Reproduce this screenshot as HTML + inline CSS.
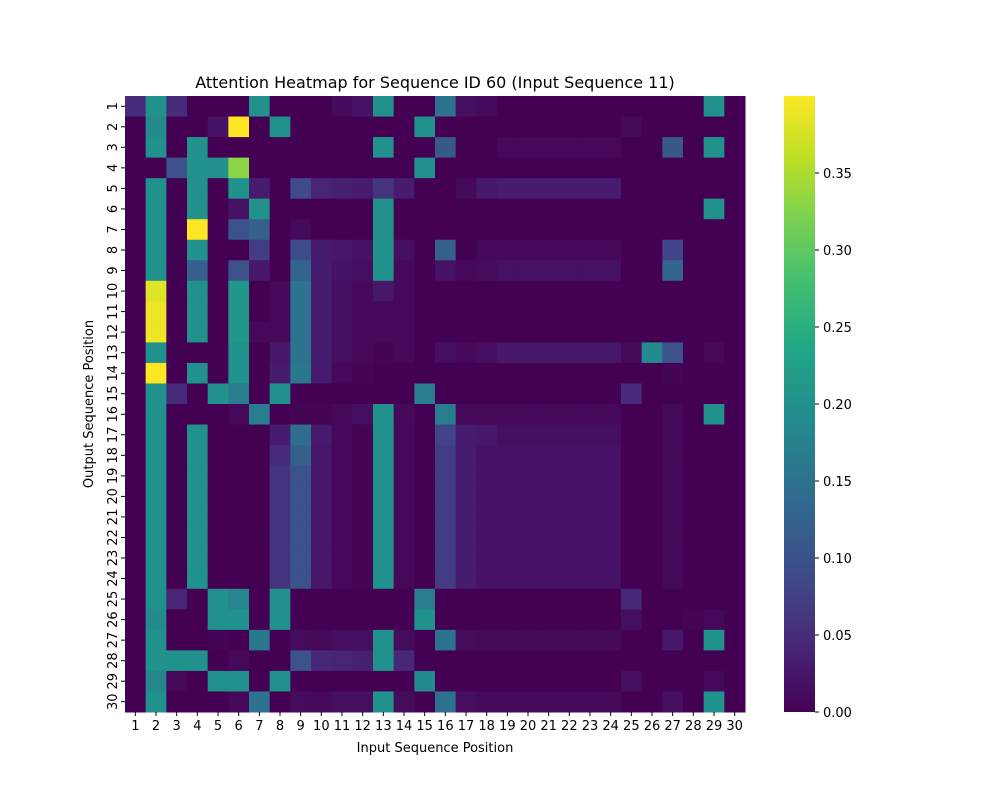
<!DOCTYPE html>
<html><head><meta charset="utf-8"><style>
body{margin:0;background:#fff;font-family:"Liberation Sans","DejaVu Sans",sans-serif}
svg text{font-family:"DejaVu Sans","Liberation Sans",sans-serif;fill:#000}
</style></head><body>
<svg id="chart" width="1000" height="800" xmlns="http://www.w3.org/2000/svg">
<defs><linearGradient id="cbg" x1="0" y1="1" x2="0" y2="0"></linearGradient></defs>
<text x="435" y="88" text-anchor="middle" font-size="16">Attention Heatmap for Sequence ID 60 (Input Sequence 11)</text>
<text x="435" y="752" text-anchor="middle" font-size="13">Input Sequence Position</text>
<text transform="translate(93,404) rotate(-90)" text-anchor="middle" font-size="13">Output Sequence Position</text>
<g id="cells"></g><g id="xt"></g><g id="yt"></g><g id="cb"></g>
</svg>
<script>
const inputPositions = Array.from({length:30},(_,i)=>String(i+1));
const outputPositions = Array.from({length:30},(_,i)=>String(i+1));
const colorbarTicks = [0,0.05,0.1,0.15,0.2,0.25,0.3,0.35];
const colorMax = 0.4;
const r1=[0.05,0.2,0.05,0,0,0,0.2,0,0,0,0.01,0.02,0.2,0,0,0.15,0.015,0.01,0,0,0,0,0,0,0,0,0,0,0.2,0];
const r2=[0,0.19,0,0,0.02,0.4,0,0.2,0,0,0,0,0,0,0.2,0,0,0,0,0,0,0,0,0,0.01,0,0,0,0,0];
const r3=[0,0.2,0,0.2,0,0,0,0,0,0,0,0,0.2,0,0,0.11,0,0,0.008,0.008,0.008,0.008,0.008,0.008,0,0,0.11,0,0.2,0];
const r4=[0,0,0.1,0.2,0.2,0.33,0,0,0,0,0,0,0,0,0.2,0,0,0,0,0,0,0,0,0,0,0,0,0,0,0];
const r5=[0,0.2,0,0.2,0,0.2,0.03,0,0.09,0.04,0.035,0.03,0.06,0.03,0,0,0.01,0.025,0.03,0.03,0.03,0.03,0.03,0.03,0,0,0,0,0,0];
const r6=[0,0.2,0,0.2,0,0.02,0.2,0,0,0,0,0,0.2,0,0,0,0,0,0,0,0,0,0,0,0,0,0,0,0.2,0];
const r7=[0,0.2,0,0.4,0,0.1,0.12,0,0.01,0,0,0,0.2,0,0,0,0,0,0,0,0,0,0,0,0,0,0,0,0,0];
const r8=[0,0.2,0,0.2,0,0,0.07,0,0.09,0.03,0.025,0.02,0.2,0.015,0,0.12,0,0.008,0.008,0.008,0.008,0.008,0.008,0.008,0,0,0.08,0,0,0];
const r9=[0,0.2,0,0.12,0,0.1,0.025,0,0.13,0.03,0.02,0.015,0.2,0.008,0,0.02,0.008,0.012,0.018,0.018,0.018,0.018,0.018,0.018,0,0,0.13,0,0,0];
const r10=[0,0.38,0,0.2,0,0.21,0,0.008,0.15,0.03,0.015,0.008,0.025,0.008,0,0,0,0,0,0,0,0,0,0,0,0,0,0,0,0];
const r11=[0,0.39,0,0.2,0,0.21,0,0.008,0.15,0.03,0.015,0.008,0.008,0.008,0,0,0,0,0,0,0,0,0,0,0,0,0,0,0,0];
const r12=[0,0.39,0,0.2,0,0.21,0.008,0.008,0.15,0.03,0.015,0.008,0.008,0.008,0,0,0,0,0,0,0,0,0,0,0,0,0,0,0,0];
const r13=[0,0.2,0,0,0,0.2,0,0.025,0.15,0.03,0.015,0.008,0.004,0.008,0,0.015,0.008,0.015,0.025,0.025,0.025,0.025,0.025,0.025,0.01,0.19,0.1,0,0.008,0];
const r14=[0,0.4,0,0.2,0,0.2,0,0.03,0.16,0.03,0.008,0.004,0,0,0,0,0,0,0,0,0,0,0,0,0,0,0.004,0,0,0];
const r15=[0,0.2,0.05,0,0.2,0.17,0,0.2,0,0,0,0,0,0,0.17,0,0,0,0,0,0,0,0,0,0.05,0,0,0,0,0];
const r16=[0,0.2,0,0,0,0.008,0.17,0,0.004,0.004,0.008,0.015,0.2,0.01,0,0.17,0.008,0.008,0.008,0.008,0.008,0.008,0.008,0.008,0,0,0.008,0,0.2,0];
const r17=[0,0.2,0,0.2,0,0,0,0.03,0.14,0.03,0.008,0.004,0.2,0.008,0,0.08,0.03,0.025,0.015,0.015,0.015,0.015,0.015,0.015,0,0,0.008,0,0,0];
const r18=[0,0.2,0,0.2,0,0,0,0.05,0.12,0.025,0.008,0.004,0.2,0.008,0,0.07,0.03,0.02,0.02,0.02,0.02,0.02,0.02,0.02,0,0,0.008,0,0,0];
const r19=[0,0.2,0,0.2,0,0,0,0.06,0.1,0.025,0.008,0.004,0.2,0.008,0,0.07,0.03,0.02,0.02,0.02,0.02,0.02,0.02,0.02,0,0,0.008,0,0,0];
const r20=[0,0.2,0,0.2,0,0,0,0.06,0.1,0.025,0.008,0.004,0.2,0.008,0,0.07,0.03,0.02,0.02,0.02,0.02,0.02,0.02,0.02,0,0,0.008,0,0,0];
const r21=[0,0.2,0,0.2,0,0,0,0.06,0.1,0.025,0.008,0.004,0.2,0.008,0,0.07,0.03,0.02,0.02,0.02,0.02,0.02,0.02,0.02,0,0,0.008,0,0,0];
const r22=[0,0.2,0,0.2,0,0,0,0.06,0.1,0.025,0.008,0.004,0.2,0.008,0,0.07,0.03,0.02,0.02,0.02,0.02,0.02,0.02,0.02,0,0,0.008,0,0,0];
const r23=[0,0.2,0,0.2,0,0,0,0.06,0.1,0.025,0.008,0.004,0.2,0.008,0,0.07,0.03,0.02,0.02,0.02,0.02,0.02,0.02,0.02,0,0,0.008,0,0,0];
const r24=[0,0.2,0,0.2,0,0,0,0.06,0.1,0.025,0.008,0.004,0.2,0.008,0,0.07,0.03,0.02,0.02,0.02,0.02,0.02,0.02,0.02,0,0,0.008,0,0,0];
const r25=[0,0.2,0.04,0,0.2,0.18,0,0.2,0,0,0,0,0,0,0.17,0,0,0,0,0,0,0,0,0,0.045,0,0,0,0,0];
const r26=[0,0.19,0,0,0.2,0.2,0,0.2,0,0,0,0,0,0,0.2,0,0,0,0,0,0,0,0,0,0.015,0,0,0.004,0.008,0];
const r27=[0,0.2,0,0,0.004,0,0.16,0,0.012,0.008,0.015,0.015,0.2,0.012,0,0.15,0.012,0.01,0.01,0.01,0.01,0.01,0.01,0.01,0,0,0.025,0,0.2,0];
const r28=[0,0.2,0.2,0.2,0,0.008,0,0,0.1,0.045,0.04,0.035,0.2,0.045,0,0,0,0,0,0,0,0,0,0,0,0,0,0,0,0];
const r29=[0,0.18,0.008,0,0.2,0.2,0,0.2,0,0,0,0,0,0,0.19,0,0,0,0,0,0,0,0,0,0.015,0,0,0,0.008,0];
const r30=[0,0.2,0,0,0,0.008,0.15,0,0.012,0.008,0.015,0.015,0.2,0.012,0,0.15,0.015,0.01,0.01,0.01,0.01,0.01,0.01,0.01,0,0,0.015,0,0.2,0];
const matrix=[r1,r2,r3,r4,r5,r6,r7,r8,r9,r10,r11,r12,r13,r14,r15,r16,r17,r18,r19,r20,r21,r22,r23,r24,r25,r26,r27,r28,r29,r30];

const NS="http://www.w3.org/2000/svg";
const L=125,R=745,T=96,B=712;
const cw=(R-L)/inputPositions.length, ch=(B-T)/outputPositions.length;
const xPos=i=>L+i*cw, yPos=j=>T+j*ch;
const vir=[[68,1,84],[72,36,117],[65,68,135],[53,95,141],[42,120,142],[33,145,140],[34,168,132],[68,191,112],[122,209,81],[189,223,38],[253,231,37]];
function color(v){let t=Math.max(0,Math.min(1,v/colorMax))*(vir.length-1);let i=Math.min(Math.floor(t),vir.length-2),f=t-i;const c=vir[i].map((a,k)=>Math.round(a+(vir[i+1][k]-a)*f));return `rgb(${c})`;}
function mk(tag,attrs,parent){const e=document.createElementNS(NS,tag);for(const k in attrs)e.setAttribute(k,attrs[k]);parent.appendChild(e);return e;}
const cells=document.getElementById('cells');
matrix.forEach((row,j)=>row.forEach((v,i)=>{
 const r=mk('rect',{x:xPos(i),y:yPos(j),width:cw+0.5,height:ch+0.5,fill:color(v)},cells);
 
 
}));
const xt=document.getElementById('xt');
inputPositions.forEach((lab,i)=>{
 const x=xPos(i)+cw/2;
 mk('line',{x1:x,x2:x,y1:B,y2:B+4,stroke:'#000'},xt);
 const t=mk('text',{x:x,y:B+18,'text-anchor':'middle','font-size':13},xt);t.textContent=lab;
 
 
});
const yt=document.getElementById('yt');
outputPositions.forEach((lab,j)=>{
 const y=yPos(j)+ch/2;
 mk('line',{x1:L-4,x2:L,y1:y,y2:y,stroke:'#000'},yt);
 const t=mk('text',{transform:`translate(${L-8},${y}) rotate(-90)`,'text-anchor':'middle','font-size':13},yt);t.textContent=lab;
 
 
});
const cb=document.getElementById('cb');
const CL=784,CR=815;
const g=document.getElementById('cbg');
for(let k=0;k<=20;k++){mk('stop',{offset:k/20,'stop-color':color(colorMax*k/20)},g);}
const bar=mk('rect',{x:CL,y:T,width:CR-CL,height:B-T,fill:'url(#cbg)'},cb);


const cy=v=>B-(v/colorMax)*(B-T);
colorbarTicks.forEach(v=>{
 const y=cy(v);
 mk('line',{x1:CR,x2:CR+4,y1:y,y2:y,stroke:'#000'},cb);
 const t=mk('text',{x:CR+8,y:y+5,'font-size':13},cb);t.textContent=v.toFixed(2);
 
 
});
</script>
</body></html>
